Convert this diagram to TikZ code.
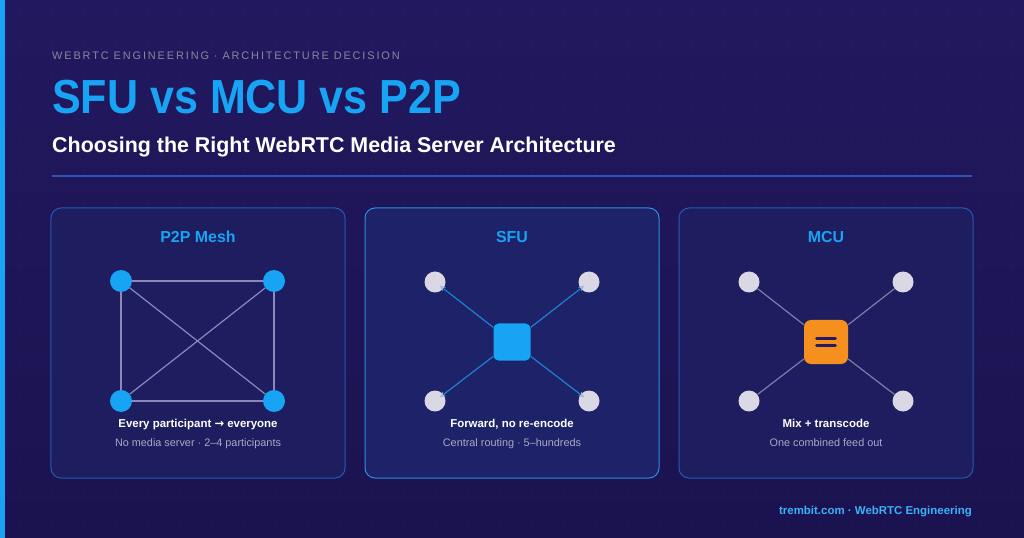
\documentclass[tikz,border=0pt]{standalone}
\usepackage{fontspec}
\setmainfont{Liberation Sans}
\newfontfamily\arrowfont{DejaVu Sans}
\usetikzlibrary{arrows.meta,positioning}

\definecolor{bgtop}{HTML}{22185F}
\definecolor{bgbot}{HTML}{1B1350}
\definecolor{accent}{HTML}{18A4F4}
\definecolor{greytext}{HTML}{8A879C}
\definecolor{subtext}{HTML}{ABA9C4}
\definecolor{rulecol}{HTML}{2D55B4}
\definecolor{cardfill}{HTML}{1D1D60}
\definecolor{cardedge}{HTML}{1F5CB4}
\definecolor{hotfill}{HTML}{1E2268}
\definecolor{hotedge}{HTML}{2A8EE0}
\definecolor{meshline}{HTML}{8C89BA}
\definecolor{sfuline}{HTML}{1C80D0}
\definecolor{mculine}{HTML}{7F7CAA}
\definecolor{peergrey}{HTML}{D9D8E4}
\definecolor{mixorange}{HTML}{F5901E}
\definecolor{navyink}{HTML}{231C64}

\tikzset{
  card/.style={draw=cardedge,fill=cardfill,rounded corners=10bp,line width=1bp,
    minimum width=294bp,minimum height=270bp,inner sep=0pt},
  hotcard/.style={card,draw=hotedge,fill=hotfill},
  cardtitle/.style={anchor=base,text=accent,font=\fontsize{16}{18}\selectfont\bfseries},
  caption/.style={anchor=base,text=white,font=\fontsize{11.5}{13}\selectfont\bfseries},
  subcaption/.style={anchor=base,text=subtext,font=\fontsize{10.9}{12}\selectfont},
  meshpeer/.style={circle,fill=accent,minimum size=22bp,inner sep=0pt},
  peer/.style={circle,fill=peergrey,minimum size=21bp,inner sep=0pt},
  meshlink/.style={draw=meshline,line width=1.2bp},
  sfulink/.style={draw=sfuline,line width=1.2bp,
    -{Stealth[length=6bp,width=5bp,color=peergrey!70!sfuline]},shorten >=-5bp},
  mculink/.style={draw=mculine,line width=1.2bp},
  mixbar/.style={navyink,line width=2.8bp,line cap=round},
}

\begin{document}
\begin{tikzpicture}[x=1bp,y=-1bp]
  \useasboundingbox (0,0) rectangle (1024,538);
  \shade[top color=bgtop,bottom color=bgbot] (0,0) rectangle (1024,538);
  \foreach \x in {20,52,...,1012}
    \foreach \y in {12,44,...,530}
      \fill[white,opacity=0.04] (\x,\y) circle (0.9bp);
  \fill[accent] (0,0) rectangle (5,538);

  \node[anchor=base west,inner sep=0pt,text=greytext,
    font=\fontsize{11}{12}\selectfont\addfontfeature{LetterSpace=17}] (kicker) at (52,60)
    {WEBRTC ENGINEERING · ARCHITECTURE DECISION};
  \node[anchor=base west,inner sep=0pt,text=accent,
    font=\fontsize{48}{50}\selectfont\bfseries] (title) at (52,114)
    {\scalebox{0.9}[1]{SFU vs MCU vs P2P}};
  \node[anchor=base west,inner sep=0pt,text=white,
    font=\fontsize{21.5}{23}\selectfont\bfseries] (subtitle) at (52,153)
    {Choosing the Right WebRTC Media Server Architecture};
  \coordinate (rulel) at (52,176);
  \coordinate (ruler) at (972,176);
  \draw[rulecol,line width=1.3bp] (rulel) -- (ruler);

  \node[card] (p2pcard) at (198,343) {};
  \node[hotcard] (sfucard) at (512,343) {};
  \node[card] (mcucard) at (826,343) {};

  \node[cardtitle] (p2ptitle) at (198,243) {P2P Mesh};
  \node[cardtitle] (sfutitle) at (512,243) {SFU};
  \node[cardtitle] (mcutitle) at (826,243) {MCU};

  \node[meshpeer] (p2pa) at (121,281) {};
  \node[meshpeer] (p2pb) at (274,281) {};
  \node[meshpeer] (p2pc) at (121,401) {};
  \node[meshpeer] (p2pd) at (274,401) {};
  \draw[meshlink] (p2pa) -- (p2pb);
  \draw[meshlink] (p2pc) -- (p2pd);
  \draw[meshlink] (p2pa) -- (p2pc);
  \draw[meshlink] (p2pb) -- (p2pd);
  \draw[meshlink] (p2pa) -- (p2pd);
  \draw[meshlink] (p2pb) -- (p2pc);

  \node[rectangle,fill=accent,rounded corners=5bp,minimum size=37bp,inner sep=0pt] (sfuhub) at (512,342) {};
  \node[peer] (sfua) at (435,282) {};
  \node[peer] (sfub) at (589,282) {};
  \node[peer] (sfuc) at (435,401) {};
  \node[peer] (sfud) at (589,401) {};
  \draw[sfulink] (sfuhub) -- (sfua);
  \draw[sfulink] (sfuhub) -- (sfub);
  \draw[sfulink] (sfuhub) -- (sfuc);
  \draw[sfulink] (sfuhub) -- (sfud);

  \node[peer] (mcua) at (749,282) {};
  \node[peer] (mcub) at (903,282) {};
  \node[peer] (mcuc) at (749,401) {};
  \node[peer] (mcud) at (903,401) {};
  \node[rectangle,fill=mixorange,rounded corners=7bp,minimum size=44bp,inner sep=0pt] (mcuhub) at (826,342) {};
  \draw[mixbar] (816.5,338.2) -- (835.5,338.2);
  \draw[mixbar] (816.5,345.5) -- (835.5,345.5);
  \draw[mculink] (mcuhub) -- (mcua);
  \draw[mculink] (mcuhub) -- (mcub);
  \draw[mculink] (mcuhub) -- (mcuc);
  \draw[mculink] (mcuhub) -- (mcud);

  \node[caption] (p2pcap) at (198,427) {Every participant {\arrowfont →} everyone};
  \node[subcaption] (p2psub) at (198,446) {No media server · 2–4 participants};
  \node[caption] (sfucap) at (512,427) {Forward, no re-encode};
  \node[subcaption] (sfusub) at (512,446) {Central routing · 5–hundreds};
  \node[caption] (mcucap) at (826,427) {Mix + transcode};
  \node[subcaption] (mcusub) at (826,446) {One combined feed out};

  \node[anchor=base east,inner sep=0pt,text=accent!85!white,
    font=\fontsize{11.5}{13}\selectfont\bfseries] (footer) at (972,514)
    {trembit.com · WebRTC Engineering};
\end{tikzpicture}
\end{document}
